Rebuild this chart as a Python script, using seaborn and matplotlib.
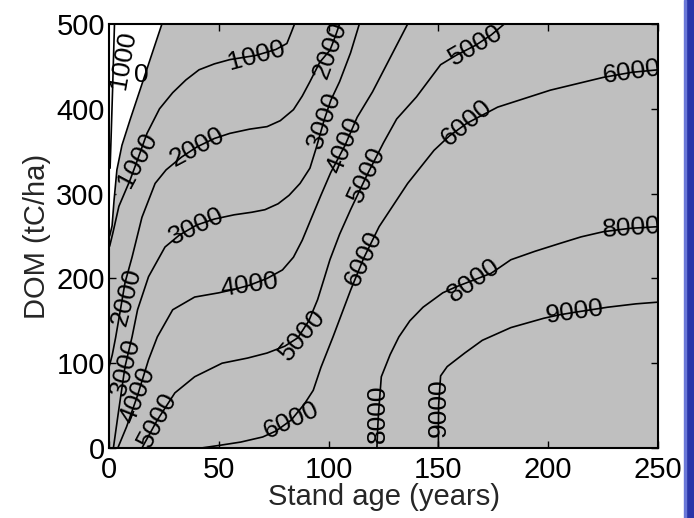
import matplotlib
matplotlib.use("Agg")
import matplotlib.pyplot as plt
from matplotlib.patches import Rectangle
import seaborn as sns

# contour lines: stand age (years) vs DOM (tC/ha)
neg_age = [0.5, 1.0, 1.6, 2.1, 2.5]
neg_dom = [330, 370, 420, 465, 500]

c0_age = [0.3, 1.4, 2.3, 3.6, 5.9, 9.6, 14.1, 18.7, 24.1]
c0_dom = [250, 262, 292, 328, 357, 387, 422, 458, 500]

c1000_age = [0.3, 1.8, 4.5, 9.6, 13, 17.3, 23, 29, 35, 41, 48, 55, 67, 76, 81, 83, 84.5]
c1000_dom = [238, 254, 285, 316, 340, 371, 400, 419, 434, 446, 453, 458, 463, 470, 477, 490, 500]

c2000_age = [0, 1.5, 3, 5, 7.3, 10.5, 15, 21, 26, 33, 40, 48, 55, 64, 72, 78, 84, 88, 91.5, 96, 100.6, 103, 105]
c2000_dom = [95, 110, 130, 160, 195, 225, 272, 312, 328, 343, 355, 365, 371, 376, 379, 386, 399, 415, 432, 455, 469, 485, 500]

c3000_age = [2, 4, 7.3, 10.5, 13, 18, 25.5, 32, 40, 48, 57, 65, 71, 77, 82, 87, 91.5, 94.5, 98, 101, 105, 110, 114]
c3000_dom = [0, 37, 96, 131, 163, 202, 237, 251, 263, 270, 275, 278, 281, 288, 298, 312, 330, 355, 387, 410, 432, 466, 500]

c4000_age = [4, 8, 13, 18, 22, 29, 39, 50, 57, 64, 72, 79, 84, 88, 92, 96.5, 101, 107.5, 113, 120, 128, 136]
c4000_dom = [0, 25, 62, 104, 131, 163, 178, 183, 187, 192, 200, 210, 225, 245, 270, 298, 325, 357, 390, 420, 460, 500]

c5000_age = [15, 22, 30, 39, 51.5, 63, 72, 80, 86, 91, 95, 98, 100.6, 105, 110, 117.5, 125, 131, 140, 151, 158, 167, 174, 180]
c5000_dom = [0, 33, 65, 84, 100, 106, 112, 120, 130, 150, 175, 200, 222, 252, 281, 322, 360, 388, 414, 452, 463, 475, 487, 500]

c6000_age = [42, 50, 60, 70, 76, 83, 89, 93, 96.5, 102, 110, 116, 123, 136, 148, 155, 163, 177, 201, 225, 238, 250]
c6000_dom = [0, 3, 7, 13, 20, 33, 52, 68, 95, 131, 186, 224, 261, 312, 351, 368, 383, 402, 422, 437, 443, 446]

c8000_age = [122, 122.3, 122.7, 124, 128, 132, 137, 143, 152, 158, 166, 174, 183, 194, 205, 215, 225, 237, 250]
c8000_dom = [0, 20, 40, 84, 110, 131, 150, 166, 183, 190, 198, 206, 222, 232, 241, 249, 255, 259, 261]

c9000_age = [150, 150, 150.1, 151, 154, 162, 170, 183, 198, 205, 212, 227, 240, 250]
c9000_dom = [0, 25, 50, 85, 96, 112, 127, 142, 153, 157, 160, 166, 170, 172]

# contour labels: text, age, DOM, angle
lab_text = ["1000", "0", "1000", "1000", "2000", "2000", "2000", "3000", "3000", "3000",
            "4000", "4000", "4000", "5000", "5000", "5000", "5000", "6000", "6000",
            "6000", "6000", "8000", "8000", "8000", "9000", "9000"]
lab_age = [6.5, 14.5, 13, 67, 8, 40, 100.6, 7.5, 40, 98, 13, 64, 107.5, 22, 88, 117.5, 167,
           83, 116, 163, 238, 122.5, 166, 238, 150, 212]
lab_dom = [458, 440, 340, 463, 178, 355, 469, 96, 262, 387, 62, 192, 357, 33, 133, 322, 475,
           33, 224, 383, 443, 40, 198, 259, 48, 160]
lab_rot = [80, 0, 62, 15, 75, 28, 70, 75, 25, 70, 68, 8, 68, 62, 50, 65, 30,
           25, 65, 40, 8, 90, 35, 4, 90, 8]

lines = [(neg_age, neg_dom), (c0_age, c0_dom), (c1000_age, c1000_dom),
         (c2000_age, c2000_dom), (c3000_age, c3000_dom), (c4000_age, c4000_dom),
         (c5000_age, c5000_dom), (c6000_age, c6000_dom), (c8000_age, c8000_dom),
         (c9000_age, c9000_dom)]

sns.set_style("ticks")
plt.rcParams['font.family'] = ['Liberation Sans', 'DejaVu Sans']

fig = plt.figure(figsize=(6.94, 5.18), dpi=100)
ax = fig.add_axes([109 / 694, 1 - 448 / 518, 549 / 694, 424 / 518])
ax.set_facecolor('#bfbfbf')

# region left of the zero contour is unfilled
ax.fill_betweenx(c0_dom, 0, c0_age, color='white', lw=0, zorder=1)

for xs, ys in lines:
    sns.lineplot(x=xs, y=ys, sort=False, estimator=None, color='black',
                 linewidth=1.2, ax=ax, zorder=2)

for t, a, d, r in zip(lab_text, lab_age, lab_dom, lab_rot):
    ax.text(a, d, t, rotation=r, rotation_mode='anchor', ha='center', va='center',
            fontsize=19, color='black', clip_on=True, zorder=3)

ax.set_xlim(0, 250)
ax.set_ylim(0, 500)
ax.set_xticks([0, 50, 100, 150, 200, 250])
ax.set_yticks([0, 100, 200, 300, 400, 500])
ax.tick_params(direction='in', length=5, width=1, top=True, right=True,
               labelsize=21, colors='black')
ax.tick_params(axis='x', pad=6)
ax.tick_params(axis='y', pad=3)
for sp in ax.spines.values():
    sp.set_linewidth(1.5)
    sp.set_color('black')
ax.set_xlabel('Stand age (years)', fontsize=21, labelpad=-1)
ax.set_ylabel('DOM (tC/ha)', fontsize=21, labelpad=4)

# blue frame strip on the right edge
fig.patches.append(Rectangle((685 / 694, 0), 9 / 694, 1, transform=fig.transFigure,
                             color='#2a35a8', zorder=0))
fig.patches.append(Rectangle((684 / 694, 0), 2 / 694, 1, transform=fig.transFigure,
                             color='#6a78d8', zorder=0))

fig.savefig('out.png', dpi=100)
